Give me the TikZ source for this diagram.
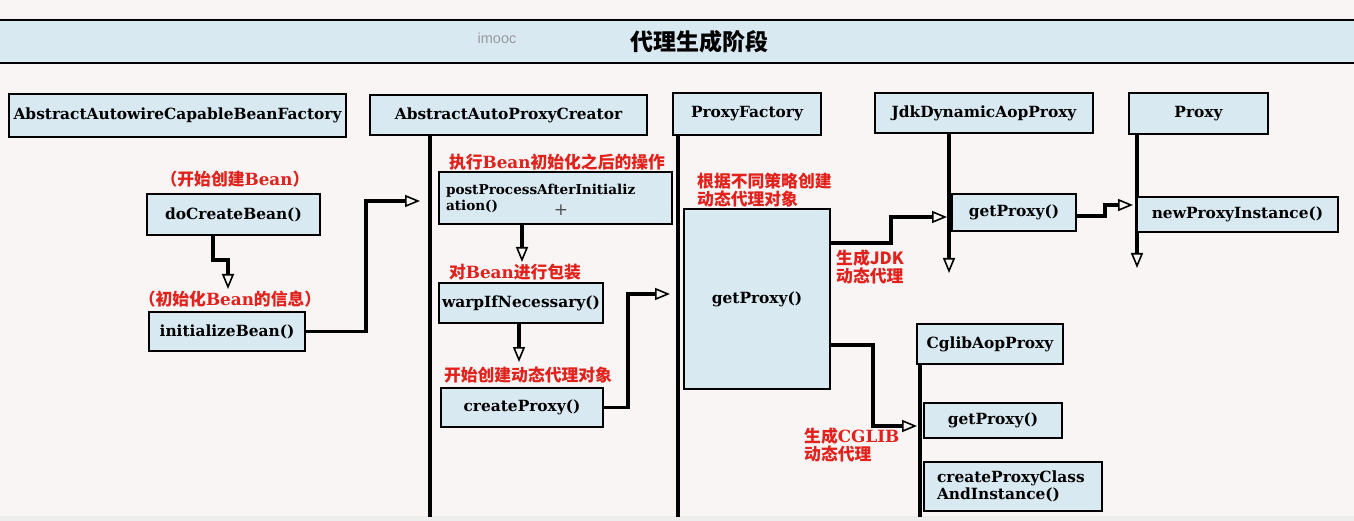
\documentclass[tikz,border=0pt]{standalone}
\usepackage{fontspec}
\setmainfont{DejaVu Serif}
\newfontfamily\cjk{Noto Sans CJK SC}
\newfontfamily\lsans{Liberation Sans}
\usetikzlibrary{arrows.meta,positioning}
\definecolor{paper}{HTML}{F8F5F4}
\definecolor{lightblue}{HTML}{D8E9F2}
\definecolor{redlabel}{HTML}{E3211C}
\definecolor{wmark}{HTML}{9A9A9A}
\newcommand{\zh}[1]{{\cjk #1}}

\begin{document}
\begin{tikzpicture}[x=1pt,y=-1pt,
  box/.style={draw=black,line width=2pt,fill=lightblue,inner sep=0pt,font=\bfseries\fontsize{15.4}{17}\selectfont},
  life/.style={line width=4pt},
  lifetip/.style={line width=4pt,-{Triangle[open,length=15pt,width=12pt,line width=1.6pt]}},
  flow/.style={line width=3.5pt,-{Triangle[open,length=15pt,width=12pt,line width=1.6pt]}},
  note/.style={text=redlabel,font=\bfseries\fontsize{16.8}{18}\selectfont,inner sep=0pt}]
\useasboundingbox (0,0) rectangle (1354,521);
\fill[paper] (0,0) rectangle (1354,521);
\fill[black!7] (0,516) rectangle (1354,521);
% title band
\fill[lightblue] (-5,20) rectangle (1360,63);
\draw[line width=2.5pt] (-5,20) -- (1360,20) (-5,63) -- (1360,63);
\node[text=wmark,font=\lsans\fontsize{14.5}{16}\selectfont] (mark) at (497,38) {imooc};
\node[font=\cjk\bfseries\fontsize{23}{25}\selectfont] (title) at (699,42) {代理生成阶段};

% class heads
\foreach \x/\y/\w/\h/\t/\id in {
177.5/115.5/337/43/AbstractAutowireCapableBeanFactory/aacbf,
508.5/115/277/40/AbstractAutoProxyCreator/aapc,
747/114/148/42/ProxyFactory/pf,
984/113/218/40/JdkDynamicAopProxy/jdk,
1198.5/113.5/139/41/Proxy/proxy,
990/344/146/40/CglibAopProxy/cglib}
{
  \node[box,minimum width=\w pt,minimum height=\h pt] (\id) at (\x,\y) {\t};
}

% lifelines
\coordinate (aapcEnd) at (430,517);
\coordinate (pfEnd) at (678,517);
\coordinate (cglibEnd) at (920,517);
\coordinate (jdkEnd) at (949,273);
\coordinate (proxyEnd) at (1137,268);
\draw[life] (aapc.south -| aapcEnd) -- (aapcEnd);
\draw[life] (pf.south -| pfEnd) -- (pfEnd);
\draw[life] (cglib.south -| cglibEnd) -- (cglibEnd);
\draw[lifetip] (jdk.south -| jdkEnd) -- (jdkEnd);
\draw[lifetip] (proxy.south -| proxyEnd) -- (proxyEnd);

% methods
\foreach \x/\y/\w/\h/\t/\id in {
233.5/214.5/173/41/doCreateBean()/doc,
227/331.5/156/39/initializeBean()/init,
521/303/164/40/warpIfNecessary()/warp,
522/407.5/162/39/createProxy()/cp,
757/299/146/180/getProxy()/gp,
1014/212.5/124/37/getProxy()/jgp,
1237.5/214.5/201/35/newProxyInstance()/npi,
993/420.5/138/35/getProxy()/cgp}
{
  \node[box,minimum width=\w pt,minimum height=\h pt] (\id) at (\x,\y) {\t};
}
\node[box,font=\bfseries\fontsize{13.6}{16}\selectfont,minimum width=233pt,minimum height=52pt,text width=219pt,align=left] (ppai) at (555.5,198) {postProcessAfterInitializ\\ation()};
\node[box,minimum width=178pt,minimum height=49pt,text width=152pt,align=left] (cpci) at (1013,486.5) {createProxyClass\\AndInstance()};
\node[text=black!70,font=\fontsize{17}{19}\selectfont,inner sep=0pt] (cursor) at (561,210) {+};

% red notes
\node[note] (n1) at (235,179) {\zh{（开始创建}Bean\zh{）}};
\node[note] (n2) at (230,299) {\zh{（初始化}Bean\zh{的信息）}};
\node[note] (n3) at (557,162) {\zh{执行}Bean\zh{初始化之后的操作}};
\node[note] (n4) at (515,272) {\zh{对}Bean\zh{进行包装}};
\node[note] (n5) at (528,375) {\zh{开始创建动态代理对象}};
\node[note,anchor=north west,align=left] (n6) at (697,173) {\zh{根据不同策略创建}\\\zh{动态代理对象}};
\node[note,anchor=west,align=left] (n7) at (836,267) {\zh{生成JDK}\\\zh{动态代理}};
\node[note,anchor=west,align=left] (n8) at (804,445) {\zh{生成}CGLIB\\\zh{动态代理}};

% connectors
\coordinate (t1) at (228,289);
\coordinate (t2) at (420,201);
\coordinate (t3) at (522,262);
\coordinate (t4) at (519,362);
\coordinate (t5) at (670,294);
\coordinate (t6) at (947,217);
\coordinate (t7) at (917,426);
\coordinate (t8) at (1133,205);
\draw[flow] (doc.south -| 213,0) -- (213,260) -| (t1);
\draw[flow] (init.east) -- (366,331.5) |- (t2);
\draw[flow] (ppai.south -| t3) -- (t3);
\draw[flow] (warp.south -| t4) -- (t4);
\draw[flow] (cp.east) -- (628,407.5) |- (t5);
\draw[flow] (gp.east |- 0,243) -- (891,243) |- (t6);
\draw[flow] (gp.east |- 0,345) -- (873,345) |- (t7);
\draw[flow] (jgp.east |- 0,216) -- (1105,216) |- (t8);
\end{tikzpicture}
\end{document}
